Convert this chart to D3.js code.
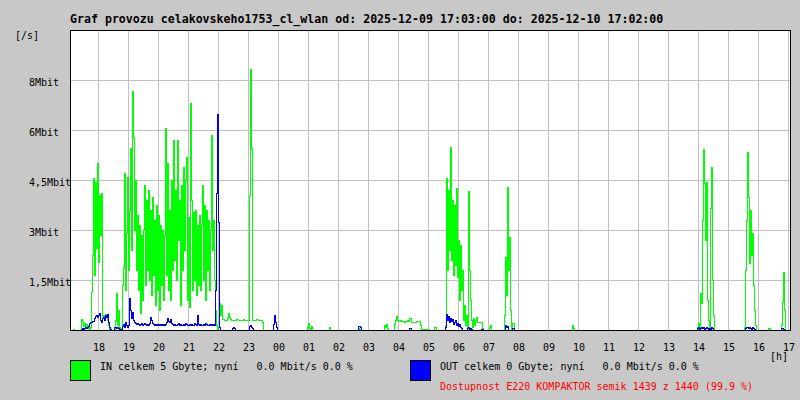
<!DOCTYPE html>
<html><head><meta charset="utf-8">
<script src="https://cdn.jsdelivr.net/npm/d3@7"></script>
<style>
html,body{margin:0;padding:0;background:#c8c8c8;}
svg{display:block;}
text{font-family:"DejaVu Sans Mono",monospace;white-space:pre;}
</style></head><body>
<svg id="c" width="800" height="400"></svg>
<script>
// ---------- data ----------
const titleText = "Graf provozu celakovskeho1753_cl_wlan od: 2025-12-09 17:03:00 do: 2025-12-10 17:02:00";
const startTime = new Date(2025, 11, 9, 17, 3);
const endTime = new Date(2025, 11, 10, 17, 3);
const sampleMinutes = 2;
const sampleCount = 720;
const hourLabels = ["18","19","20","21","22","23","00","01","02","03","04","05","06","07","08","09","10","11","12","13","14","15","16","17"];
const yMaxKbit = 9000;
const yTickValues = [1500, 3000, 4500, 6000, 7500];
const yTickLabels = ["1,5Mbit", "3Mbit", "4,5Mbit", "6Mbit", "8Mbit"];
const yUnit = "[/s]";
const xUnit = "[h]";
const legendIn = "IN celkem 5 Gbyte; nyní   0.0 Mbit/s 0.0 %";
const legendOut = "OUT celkem 0 Gbyte; nyní   0.0 Mbit/s 0.0 %";
const availability = "Dostupnost E220 KOMPAKTOR semik 1439 z 1440 (99.9 %)";

// IN traffic, kbit/s, [first sample index, values...] (samples every 2 minutes, others 0)
const inSegments = [
  [0, [0,0,0,0,30,0,0,0,0,0,0,0,330,270,120,210,90,180,60,150,30,90,1140,2250,4560,1650,4440,2460,5010,2040,4050,2850,4110,420,450,360,480,420,300,150,0,0,0,0,0,0,300,1110,150,600,90,0,60,1350,1890,4710,1200,2910,4590,1800,3600,5460,2400,7170,5790,3000,4500,1800,3450,1200,3150,510,2850,900,3000,4350,1350,3900,1800,4200,1500,3600,1050,3990,1650,3300,750,3750,1200,3450,600,3150,1350,3000,900,2850,6060,1650,5010,1200,3600,900,4500,1800,5700,2100,4200,1500,5700,2700,3900,750,4350,1800,4890,2400,4500,5190,900,3390,690,6810,3900,1200,3540,1500,3600,1050,3150,1350,3450,1200,3150,4350,1500,3750,900,3600,1800,3300,1200,3000,5850,2400,3300,1500,600,150,0,90,810,450,750,330,330,300,300,300,360,510,390,330,300,300,300,300,300,330,330,300,300,300,300,300,330,300,300,300,300,300,4050,7830,5460,300,300,300,300,330,330,300,300,300,300,240]],
  [238, [90,210,60,0,120]],
  [260, [90]],
  [289, [60,30]],
  [315, [150,90,180,60]],
  [325, [180,300,420,300,270,270,300,270,270,270,240,270,270,300,270,360,360,240,240,240,240,240,270,270,270,270,150,30,30,30,30,30,30,30,30,0,0,0,0,0,90,90]],
  [376, [150,4560,1800,4200,2400,5490,2100,3900,1650,3750,1950,4260,1590,2700,900,2550,1200,1800,300,750,150,450,90,4170,1800,900,300,90,360,150,300,390,240,240,240,240,240,60,0,0,0,0,0,0,90,150]],
  [435, [450,2190,1050,4290,1800,2790,600,0,210,210]],
  [503, [150,60]],
  [628, [90,210,60,1110,810,3300,5430,4410,2700,4440,900,300,90,3660,4890,1500,450]],
  [675, [90,1800,3300,5340,3990,2010,3600,2250,2910,1350,600,150]],
  [699, [60,60]],
  [712, [150,840,1740,600]]
];
// OUT traffic, kbit/s
const outSegments = [
  [12, [30,60,30,60,90,60,90,120,210,240,240,270,270,360,420,450,390,450,510,300,240,360,390,300,450,390,480,240,90,30]],
  [45, [90,90,60,90,60,0,30,0,120,180,90,240,150,90,150,960,600,360,540,300,240,210,180,210,180,150,180,210,150,180,210,180,150,180,150,210,390,300,210,180,150,180,150,180,150,180,150,180,150,180,150,180,240,360,270,240,330,210,180,150,180,150,150,180,210,150,180,150,150,180,150,210,180,150,150,180,150,180,150,150,210,180,150,450,180,150,180,150,150,180,150,210,180,150,150,180,150,180,150,180,150,1200,4110,6480,3240,90]],
  [163, [60,90,60]],
  [180, [120,150,90,60]],
  [204, [180,450,240,90]],
  [289, [120,120,90]],
  [340, [60,60]],
  [376, [90,480,300,420,240,360,270,330,180,240,300,150,210,120,180,90,60]],
  [398, [60,90,30,60,30]],
  [412, [30,30]],
  [436, [150,90,120]],
  [443, [60,60]],
  [628, [60,90,30,60,90,60,90,30,60,90,60,30,60,30,90,60]],
  [676, [60,90,90,60,90,60,30,90,60,30]],
  [712, [60,60,30]]
];

// ---------- build ----------
function expand(segs) {
  const a = new Array(sampleCount).fill(0);
  segs.forEach(([s, vals]) => vals.forEach((v, k) => { if (s + k < sampleCount) a[s + k] = v; }));
  return a.map((v, i) => ({ t: new Date(startTime.getTime() + i * sampleMinutes * 60000), v }));
}
const inData = expand(inSegments);
const outData = expand(outSegments);

const L = 70, T = 30, R = 790, B = 330;
const svg = d3.select("#c");
svg.append("rect").attr("width", 800).attr("height", 400).attr("fill", "#c8c8c8");

const x = d3.scaleTime().domain([startTime, endTime]).range([L, R]);
const y = d3.scaleLinear().domain([0, yMaxKbit]).range([B, T]);

// plot background
svg.append("rect").attr("x", L).attr("y", T).attr("width", R - L).attr("height", B - T).attr("fill", "#ffffff");

// grid
const hourTicks = d3.timeHour.range(new Date(2025, 11, 9, 18), new Date(2025, 11, 10, 17, 1));
const grid = svg.append("g").attr("stroke", "#c0c0c0").attr("stroke-width", 1).attr("shape-rendering", "crispEdges");
hourTicks.forEach(d => {
  const gx = Math.floor(x(d)) + 0.5;
  grid.append("line").attr("x1", gx).attr("x2", gx).attr("y1", T).attr("y2", B);
});
yTickValues.forEach(v => {
  const gy = Math.round(y(v)) + 0.5;
  grid.append("line").attr("x1", L).attr("x2", R).attr("y1", gy).attr("y2", gy);
});

// series (one pixel column per sample, vertical steps between samples)
const line = d3.line()
  .curve(d3.curveStep)
  .x(d => Math.round(x(d.t)))
  .y(d => Math.round(y(d.v)) + 0.5);
svg.append("path").datum(inData).attr("d", line).attr("fill", "none")
  .attr("stroke", "#00ff00").attr("stroke-width", 1).attr("shape-rendering", "crispEdges");
svg.append("path").datum(outData).attr("d", line).attr("fill", "none")
  .attr("stroke", "#0000ff").attr("stroke-width", 1).attr("shape-rendering", "crispEdges");

// frame
svg.append("rect").attr("x", L + 0.5).attr("y", T + 0.5).attr("width", R - L).attr("height", B - T)
  .attr("fill", "none").attr("stroke", "#000").attr("stroke-width", 1).attr("shape-rendering", "crispEdges");

// title
svg.append("text").attr("x", L).attr("y", 23).attr("font-size", "11.6px").attr("font-weight", "bold")
  .attr("fill", "#000").text(titleText);

// y labels
svg.append("text").attr("x", 15).attr("y", 39).attr("font-size", "10px").attr("fill", "#000").text(yUnit);
yTickValues.forEach((v, i) => {
  svg.append("text").attr("x", 29).attr("y", Math.round(y(v)) + 6).attr("font-size", "10px")
    .attr("fill", "#000").text(yTickLabels[i]);
});

// x labels
hourTicks.forEach((d, i) => {
  svg.append("text").attr("x", Math.floor(x(d)) + 1).attr("y", 351).attr("font-size", "10px")
    .attr("text-anchor", "middle").attr("fill", "#000").text(hourLabels[i]);
});
svg.append("text").attr("x", 770).attr("y", 360).attr("font-size", "10px").attr("fill", "#000").text(xUnit);

// legend
svg.append("rect").attr("x", 70.5).attr("y", 360.5).attr("width", 20).attr("height", 20)
  .attr("fill", "#00ff00").attr("stroke", "#000").attr("shape-rendering", "crispEdges");
svg.append("text").attr("x", 100).attr("y", 370).attr("font-size", "10px").attr("fill", "#000").text(legendIn);
svg.append("rect").attr("x", 410.5).attr("y", 360.5).attr("width", 20).attr("height", 20)
  .attr("fill", "#0000ff").attr("stroke", "#000").attr("shape-rendering", "crispEdges");
svg.append("text").attr("x", 440).attr("y", 370).attr("font-size", "10px").attr("fill", "#000").text(legendOut);
svg.append("text").attr("x", 440).attr("y", 390).attr("font-size", "10px").attr("fill", "#ff0000").text(availability);
</script>
</body></html>
